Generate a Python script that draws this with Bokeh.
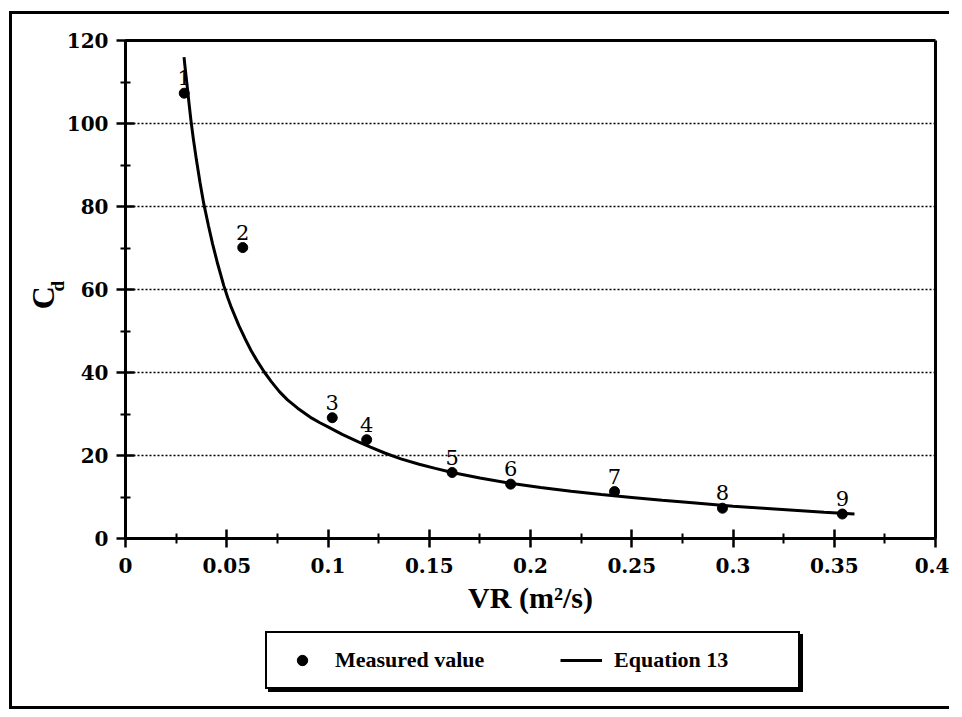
from bokeh.plotting import figure
from bokeh.models import (Range1d, FixedTicker, Legend, LegendItem, Label,
                          ColumnDataSource, LinearAxis, Grid)
from bokeh.core.properties import value
from bokeh.embed import file_html
from bokeh.resources import INLINE

# ---- data ----
vr_measured = [0.0290, 0.0579, 0.1021, 0.1191, 0.1613, 0.1902, 0.2415, 0.2948, 0.3540]
cd_measured = [107.3, 70.1, 29.1, 23.8, 15.9, 13.1, 11.3, 7.3, 5.9]
point_labels = ["1", "2", "3", "4", "5", "6", "7", "8", "9"]

vr_equation = [0.0289, 0.0295, 0.0305, 0.0315, 0.0323, 0.0335, 0.035, 0.0368, 0.0386,
               0.041, 0.043, 0.0455, 0.0485, 0.0505, 0.052, 0.056, 0.059, 0.062,
               0.065, 0.0687, 0.072, 0.076, 0.080, 0.085, 0.0885, 0.092, 0.096,
               0.100, 0.107, 0.115, 0.121, 0.128, 0.136, 0.145, 0.153, 0.1613,
               0.175, 0.190, 0.205, 0.220, 0.235, 0.250, 0.265, 0.280, 0.300,
               0.315, 0.330, 0.345, 0.360]
cd_equation = [116.0, 113.2, 108.8, 104.3, 100.8, 96.3, 91.3, 85.8, 80.8,
               75.3, 71.0, 66.2, 61.0, 58.0, 56.0, 51.3, 48.2, 45.3,
               42.8, 40.0, 37.8, 35.4, 33.4, 31.4, 30.2, 29.0, 27.9,
               26.9, 25.1, 23.3, 22.0, 20.6, 19.2, 17.9, 16.9, 15.9,
               14.6, 13.3, 12.3, 11.4, 10.6, 9.9, 9.2, 8.6, 7.8,
               7.3, 6.8, 6.3, 5.9]

x_ticks = [0.0, 0.05, 0.1, 0.15, 0.2, 0.25, 0.3, 0.35, 0.4]
x_tick_labels = ["0", "0.05", "0.1", "0.15", "0.2", "0.25", "0.3", "0.35", "0.4"]
x_minor = [0.025, 0.075, 0.125, 0.175, 0.225, 0.275, 0.325, 0.375]
y_ticks = [0, 20, 40, 60, 80, 100, 120]
y_tick_labels = ["0", "20", "40", "60", "80", "100", "120"]
y_minor = [10, 30, 50, 70, 90, 110]

X_MIN, X_MAX = 0.0, 0.4
Y_MIN, Y_MAX = 0, 120

FONT_TICK = "DejaVu Serif"
FONT_TXT = "Liberation Serif"

# ---- page geometry (pixels) ----
W, H = 940, 698                 # canvas size
CANVAS_LEFT, CANVAS_TOP = 12, 14
AX_LEFT, AX_RIGHT = 125, 935    # page x of VR = 0 and VR = 0.4
AX_BOTTOM, AX_TOP = 538, 40     # page y of Cd = 0 and Cd = 120
sx = (X_MAX - X_MIN) / (AX_RIGHT - AX_LEFT)
sy = (Y_MAX - Y_MIN) / (AX_BOTTOM - AX_TOP)
x_range = Range1d(X_MIN - (AX_LEFT - CANVAS_LEFT) * sx,
                  X_MAX + (CANVAS_LEFT + W - AX_RIGHT) * sx)
y_range = Range1d(Y_MIN - (CANVAS_TOP + H - AX_BOTTOM) * sy,
                  Y_MAX + (AX_TOP - CANVAS_TOP) * sy)

p = figure(width=W, height=H, output_backend="svg", toolbar_location=None,
           x_range=x_range, y_range=y_range,
           x_axis_location=None, y_axis_location=None, min_border=0)
p.styles = {"border-left": "3px solid black", "border-top": "3px solid black",
            "border-bottom": "3px solid black", "margin-left": "9px",
            "margin-top": "11px"}
p.outline_line_color = None
p.background_fill_color = "white"
p.border_fill_color = "white"
p.grid.visible = False


def style_axis(ax):
    ax.axis_line_width = 3
    ax.axis_line_color = "black"
    ax.major_tick_line_width = 2.5
    ax.minor_tick_line_width = 2
    ax.major_tick_in = 9
    ax.major_tick_out = 9
    ax.minor_tick_in = 5
    ax.minor_tick_out = 5
    ax.major_label_text_font = FONT_TICK
    ax.major_label_text_font_style = "bold"
    ax.major_label_text_font_size = "20px"
    ax.major_label_text_color = "black"


xax = LinearAxis(fixed_location=Y_MIN, bounds=(X_MIN, X_MAX),
                 ticker=FixedTicker(ticks=x_ticks, minor_ticks=x_minor))
style_axis(xax)
xax.major_label_overrides = dict(zip(x_ticks, x_tick_labels))
xax.major_label_standoff = 10
xax.axis_label = "VR (m\u00b2/s)"
xax.axis_label_text_font = FONT_TXT
xax.axis_label_text_font_style = "bold"
xax.axis_label_text_font_size = "30px"
xax.axis_label_text_color = "black"
xax.axis_label_standoff = 5
p.add_layout(xax, "below")

yax = LinearAxis(fixed_location=X_MIN, bounds=(Y_MIN, Y_MAX),
                 ticker=FixedTicker(ticks=y_ticks, minor_ticks=y_minor))
style_axis(yax)
yax.major_label_overrides = dict(zip(y_ticks, y_tick_labels))
yax.major_label_standoff = 8
p.add_layout(yax, "left")

# frame lines on top and right (axes without ticks)
top_ax = LinearAxis(fixed_location=Y_MAX, bounds=(X_MIN, X_MAX),
                    ticker=FixedTicker(ticks=[]), axis_line_width=3,
                    axis_line_color="black", major_tick_line_color=None,
                    minor_tick_line_color=None)
p.add_layout(top_ax, "above")
right_ax = LinearAxis(fixed_location=X_MAX, bounds=(Y_MIN, Y_MAX),
                      ticker=FixedTicker(ticks=[]), axis_line_width=3,
                      axis_line_color="black", major_tick_line_color=None,
                      minor_tick_line_color=None)
p.add_layout(right_ax, "right")

# dotted horizontal grid
grid_kw = dict(dimension=1, ticker=FixedTicker(ticks=y_ticks[1:-1]),
               grid_line_color="black", grid_line_width=1.5, grid_line_dash="2 2")
if "cross_bounds" in Grid.properties():
    grid_kw["cross_bounds"] = (X_MIN, X_MAX)
p.add_layout(Grid(**grid_kw))

# y axis title C_d
p.add_layout(Label(x=-0.0405, y=58, text="C", angle=1.5708, angle_units="rad",
                   text_font=FONT_TXT, text_font_style="bold", text_font_size="32px",
                   text_align="center", text_baseline="middle", text_color="black"))
p.add_layout(Label(x=-0.0338, y=60.8, text="d", angle=1.5708, angle_units="rad",
                   text_font=FONT_TXT, text_font_style="bold", text_font_size="19px",
                   text_align="center", text_baseline="middle", text_color="black"))

# marks
src_m = ColumnDataSource(dict(x=vr_measured, y=cd_measured, t=point_labels))
src_e = ColumnDataSource(dict(x=vr_equation, y=cd_equation))

line_r = p.line("x", "y", source=src_e, line_color="black", line_width=3)
pts_r = p.scatter("x", "y", source=src_m, size=10, fill_color="black", line_color="black")
p.text("x", "y", text="t", source=src_m, y_offset=-8, text_align="center",
       text_baseline="bottom", text_font=value(FONT_TICK), text_font_size="21px",
       text_color="black")

# legend (with a drop shadow drawn first)
LEG_X, LEG_Y = 265 - CANVAS_LEFT, (CANVAS_TOP + H) - 689


def make_legend(loc, shadow):
    labels = [" ", " "] if shadow else ["Measured value", "Equation 13"]
    lg = Legend(items=[LegendItem(label=labels[0], renderers=[pts_r]),
                       LegendItem(label=labels[1], renderers=[line_r])],
                orientation="horizontal", location=loc)
    lg.label_text_font = FONT_TXT
    lg.label_text_font_style = "bold"
    lg.label_text_font_size = "22px"
    lg.label_text_color = "black"
    lg.border_line_color = "black"
    lg.border_line_alpha = 1
    lg.border_line_width = 2
    lg.background_fill_color = "black" if shadow else "white"
    lg.background_fill_alpha = 1
    lg.padding = 14
    lg.spacing = 55
    lg.label_standoff = 12
    lg.label_width = 170
    lg.label_height = 26
    lg.glyph_width = 42
    lg.glyph_height = 26
    lg.margin = 0
    return lg


p.add_layout(make_legend((LEG_X + 3, LEG_Y - 3), True))
p.add_layout(make_legend((LEG_X, LEG_Y), False))

open("out.html", "w").write(file_html(p, INLINE))
